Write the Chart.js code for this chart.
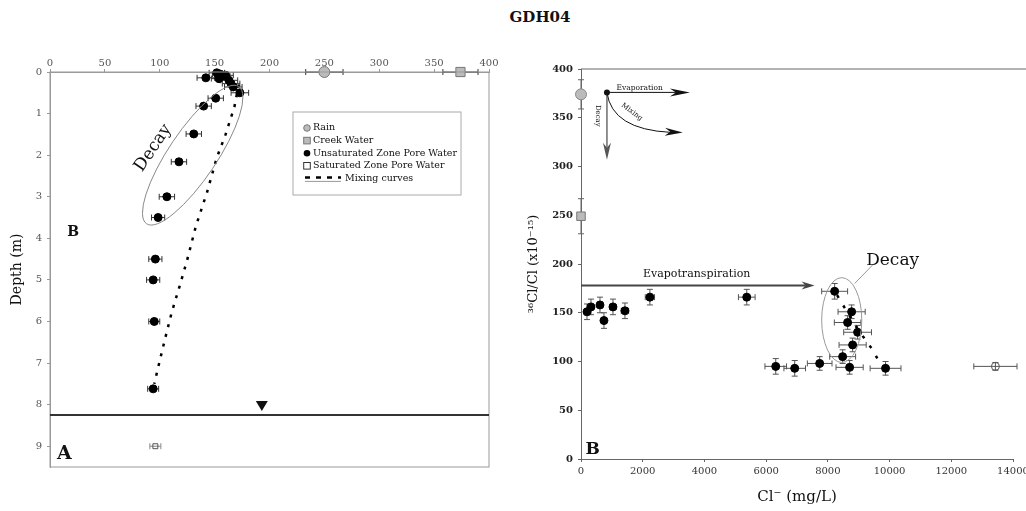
<!DOCTYPE html>
<html lang="en">
<head>
  <meta charset="UTF-8">
  <title>GDH04</title>
  <script src="https://cdn.jsdelivr.net/npm/chart.js"></script>
  <style>
    body { margin: 0; background: #fff; width: 1026px; height: 511px; overflow: hidden; position: relative; }
    #title { position: absolute; left: 490px; width: 100px; top: 8px; text-align: center;
             font: bold 15px "DejaVu Serif", serif; color: #111; }
    canvas { position: absolute; top: 0; }
    #depthChart { left: 0; }
    #mixChart { left: 510px; }
  </style>
</head>
<body>

  <div id="title">GDH04</div>
  <canvas id="depthChart" width="505" height="511"></canvas>
  <canvas id="mixChart" width="516" height="511"></canvas>

  <script>
    const SERIF = '"DejaVu Serif", serif';

    // ---- panel A: 36Cl/Cl (x10^-15) against depth ----
    const depthTicks = [0, 1, 2, 3, 4, 5, 6, 7, 8, 9];
    const ratioTopTicks = [0, 50, 100, 150, 200, 250, 300, 350, 400];

    const rainRatioA = [250], rainDepthA = [0], rainErrA = [17];
    const creekRatioA = [374], creekDepthA = [0], creekErrA = [16];
    const unsatRatioA = [142, 152, 155, 157, 154, 160, 163, 165, 167, 173, 151, 140, 131, 117.5, 106.5, 98.5, 96, 94, 95, 94];
    const unsatDepthA = [0.14, 0.02, 0.05, 0.1, 0.16, 0.08, 0.2, 0.28, 0.36, 0.5, 0.63, 0.82, 1.49, 2.16, 3.0, 3.5, 4.5, 5.0, 6.0, 7.62];
    const unsatErrA   = [8, 7, 7, 7, 7, 7, 8, 8, 8, 8, 7, 7, 7, 7, 7, 6, 6, 6, 5, 5];
    const satRatioA = [96], satDepthA = [9.0], satErrA = [5];
    const mixRatioA = [172, 168, 160, 152, 143, 133, 125, 118, 111, 105, 99.5, 95];
    const mixDepthA = [0.3, 0.84, 1.5, 2.06, 2.9, 3.7, 4.52, 5.16, 5.77, 6.4, 7.0, 7.5];
    const waterTableDepth = 8.25;
    const waterTableRatio = 193;

    const legendLabels = ['Rain', 'Creek Water', 'Unsaturated Zone Pore Water', 'Saturated Zone Pore Water', 'Mixing curves'];

    // ---- panel B: 36Cl/Cl against Cl- ----
    const clTicks = [0, 2000, 4000, 6000, 8000, 10000, 12000, 14000];
    const ratioTicks = [0, 50, 100, 150, 200, 250, 300, 350, 400];

    const rainClB = [0], rainRatioB = [374], rainErrB = [15];
    const creekClB = [0], creekRatioB = [249], creekErrB = [18];
    const unsatClB    = [194, 324, 615, 744, 1036, 1424, 2233, 5372, 8220, 8770, 8640, 8964, 8803, 8479, 6311, 6926, 7735, 8705, 9870];
    const unsatRatioB = [151, 156, 158, 142, 156, 152, 166, 166, 172, 151, 140, 130, 117, 105, 95, 93, 98, 94, 93];
    const unsatClErrB = [60, 60, 80, 80, 100, 120, 150, 270, 420, 440, 430, 450, 440, 420, 350, 350, 400, 440, 500];
    const unsatRatioErrB = [8, 8, 8, 8, 8, 8, 8, 8, 8, 7, 7, 7, 7, 7, 8, 8, 7, 7, 7];
    const satClB = [13430], satRatioB = [95], satClErrB = [700], satRatioErrB = [4];
    const mixClB    = [8300, 8450, 8700, 8930, 9200, 9450, 9640, 9800];
    const mixRatioB = [168, 160, 147, 135, 123, 112, 101, 95];

    const pts = (xs, ys) => xs.map((x, i) => ({ x: x, y: ys[i] }));

    // error bars drawn under the markers
    const errorBars = {
      id: 'errorBars',
      beforeDatasetsDraw(chart) {
        const { ctx, scales: { x, y } } = chart;
        ctx.save();
        ctx.lineWidth = 1;
        chart.data.datasets.forEach(ds => {
          if (!ds.errX && !ds.errY) return;
          ctx.strokeStyle = ds.errColor || '#333';
          ds.data.forEach((p, i) => {
            const px = x.getPixelForValue(p.x), py = y.getPixelForValue(p.y);
            ctx.beginPath();
            if (ds.errX && ds.errX[i]) {
              const a = x.getPixelForValue(p.x - ds.errX[i]), b = x.getPixelForValue(p.x + ds.errX[i]);
              ctx.moveTo(a, py); ctx.lineTo(b, py);
              ctx.moveTo(a, py - 3); ctx.lineTo(a, py + 3);
              ctx.moveTo(b, py - 3); ctx.lineTo(b, py + 3);
            }
            if (ds.errY && ds.errY[i]) {
              const a = y.getPixelForValue(p.y - ds.errY[i]), b = y.getPixelForValue(p.y + ds.errY[i]);
              ctx.moveTo(px, a); ctx.lineTo(px, b);
              ctx.moveTo(px - 3, a); ctx.lineTo(px + 3, a);
              ctx.moveTo(px - 3, b); ctx.lineTo(px + 3, b);
            }
            ctx.stroke();
          });
        });
        ctx.restore();
      }
    };

    function text(ctx, str, x, y, font, rot, align) {
      ctx.save();
      ctx.translate(x, y);
      if (rot) ctx.rotate(rot);
      ctx.font = font;
      ctx.fillStyle = '#111';
      ctx.textAlign = align || 'center';
      ctx.textBaseline = 'middle';
      ctx.fillText(str, 0, 0);
      ctx.restore();
    }

    function arrowHead(ctx, x2, y2, ang, len, half) {
      const bx = x2 - len * Math.cos(ang), by = y2 - len * Math.sin(ang);
      ctx.beginPath();
      ctx.moveTo(x2, y2);
      ctx.lineTo(bx + half * Math.sin(ang), by - half * Math.cos(ang));
      ctx.lineTo(bx + 0.3 * len * Math.cos(ang), by + 0.3 * len * Math.sin(ang));
      ctx.lineTo(bx - half * Math.sin(ang), by + half * Math.cos(ang));
      ctx.closePath();
      ctx.fill();
    }

    function arrow(ctx, x1, y1, x2, y2, len, half, lw, col) {
      const ang = Math.atan2(y2 - y1, x2 - x1);
      ctx.save();
      ctx.strokeStyle = col; ctx.fillStyle = col; ctx.lineWidth = lw;
      ctx.beginPath();
      ctx.moveTo(x1, y1);
      ctx.lineTo(x2 - 0.7 * len * Math.cos(ang), y2 - 0.7 * len * Math.sin(ang));
      ctx.stroke();
      arrowHead(ctx, x2, y2, ang, len, half);
      ctx.restore();
    }

    // ---------- panel A extras ----------
    const depthExtras = {
      id: 'depthExtras',
      afterDatasetsDraw(chart) {
        const { ctx, chartArea: ca, scales: { x, y } } = chart;
        ctx.save();
        // frame
        ctx.strokeStyle = '#999';
        ctx.lineWidth = 1;
        ctx.strokeRect(ca.left, ca.top, ca.right - ca.left, ca.bottom - ca.top);

        // water table
        const wy = y.getPixelForValue(waterTableDepth);
        ctx.strokeStyle = '#333';
        ctx.lineWidth = 2;
        ctx.beginPath(); ctx.moveTo(ca.left, wy); ctx.lineTo(ca.right, wy); ctx.stroke();
        const tx = x.getPixelForValue(waterTableRatio);
        ctx.fillStyle = '#111';
        ctx.beginPath();
        ctx.moveTo(tx - 6, wy - 14); ctx.lineTo(tx + 6, wy - 14); ctx.lineTo(tx, wy - 4);
        ctx.closePath(); ctx.fill();

        // decay ellipse
        const p1x = x.getPixelForValue(172), p1y = y.getPixelForValue(0.35);
        const p2x = x.getPixelForValue(88), p2y = y.getPixelForValue(3.65);
        const cx = (p1x + p2x) / 2, cy = (p1y + p2y) / 2;
        const rMaj = Math.hypot(p1x - p2x, p1y - p2y) / 2;
        const ang = Math.atan2(p1y - p2y, p1x - p2x);
        ctx.strokeStyle = '#888';
        ctx.lineWidth = 1;
        ctx.beginPath(); ctx.ellipse(cx, cy, rMaj, 24, ang, 0, Math.PI * 2); ctx.stroke();
        text(ctx, 'Decay', x.getPixelForValue(94), y.getPixelForValue(1.83), '17px ' + SERIF, ang);

        text(ctx, 'B', x.getPixelForValue(21), y.getPixelForValue(3.85), 'bold 14px ' + SERIF);
        text(ctx, 'A', x.getPixelForValue(13), y.getPixelForValue(9.2), 'bold 19px ' + SERIF);

        // legend box
        const lx = ca.left + 243, ly = ca.top + 40;
        ctx.strokeStyle = '#aaa';
        ctx.strokeRect(lx, ly, 168, 83);
        ctx.font = '9.5px ' + SERIF;
        ctx.textBaseline = 'middle';
        legendLabels.forEach((lab, i) => {
          const ry = ly + 16 + i * 12.6;
          const sx = lx + 14;
          ctx.lineWidth = 1;
          if (i === 0) {
            ctx.fillStyle = '#bbb'; ctx.strokeStyle = '#777';
            ctx.beginPath(); ctx.arc(sx, ry, 3.3, 0, Math.PI * 2); ctx.fill(); ctx.stroke();
          } else if (i === 1) {
            ctx.fillStyle = '#bbb'; ctx.strokeStyle = '#777';
            ctx.fillRect(sx - 3.3, ry - 3.3, 6.6, 6.6); ctx.strokeRect(sx - 3.3, ry - 3.3, 6.6, 6.6);
          } else if (i === 2) {
            ctx.fillStyle = '#000';
            ctx.beginPath(); ctx.arc(sx, ry, 3.3, 0, Math.PI * 2); ctx.fill();
          } else if (i === 3) {
            ctx.strokeStyle = '#333';
            ctx.strokeRect(sx - 3.3, ry - 3.3, 6.6, 6.6);
          } else {
            ctx.strokeStyle = '#000'; ctx.lineWidth = 2.5;
            ctx.setLineDash([5, 6]);
            ctx.beginPath(); ctx.moveTo(sx - 2, ry - 1); ctx.lineTo(sx + 34, ry - 1); ctx.stroke();
            ctx.setLineDash([]);
            ctx.strokeStyle = '#999'; ctx.lineWidth = 1;
            ctx.beginPath(); ctx.moveTo(sx - 2, ry + 3); ctx.lineTo(sx + 34, ry + 3); ctx.stroke();
          }
          ctx.fillStyle = '#111';
          ctx.textAlign = 'left';
          ctx.fillText(lab, i === 4 ? sx + 38 : sx + 6, ry);
        });
        ctx.restore();
      }
    };

    // ---------- panel B extras ----------
    const mixExtras = {
      id: 'mixExtras',
      afterDatasetsDraw(chart) {
        const { ctx, chartArea: ca, scales: { x, y } } = chart;
        ctx.save();
        ctx.strokeStyle = '#666';
        ctx.lineWidth = 1;
        ctx.beginPath(); ctx.moveTo(ca.left, ca.top); ctx.lineTo(chart.width, ca.top); ctx.stroke();

        // process sketch in the top-left corner
        const ox = x.getPixelForValue(841), oy = y.getPixelForValue(376);
        arrow(ctx, ox, oy, x.getPixelForValue(3530), oy, 20, 4, 1, '#111');
        arrow(ctx, ox, oy, ox, y.getPixelForValue(307), 17, 4, 1.3, '#555');
        const qx = x.getPixelForValue(1000), qy = y.getPixelForValue(338);
        const ex = x.getPixelForValue(3300), ey = y.getPixelForValue(335);
        ctx.strokeStyle = '#111';
        ctx.beginPath(); ctx.moveTo(ox, oy); ctx.quadraticCurveTo(qx, qy, ex - 12, ey); ctx.stroke();
        ctx.fillStyle = '#111';
        arrowHead(ctx, ex, ey, Math.atan2(ey - qy, ex - qx), 18, 4);
        ctx.beginPath(); ctx.arc(ox, oy, 3, 0, Math.PI * 2); ctx.fill();
        text(ctx, 'Evaporation', x.getPixelForValue(1900), y.getPixelForValue(380), '7.5px ' + SERIF);
        text(ctx, 'Decay', x.getPixelForValue(550), y.getPixelForValue(352), '7px ' + SERIF, Math.PI / 2);
        text(ctx, 'Mixing', x.getPixelForValue(1650), y.getPixelForValue(356), '7px ' + SERIF, 0.65);

        // evapotranspiration arrow
        const eyy = y.getPixelForValue(178);
        arrow(ctx, ca.left, eyy, x.getPixelForValue(7570), eyy, 13, 4, 2, '#444');
        text(ctx, 'Evapotranspiration', x.getPixelForValue(3750), y.getPixelForValue(190), '11px ' + SERIF);

        // decay ellipse and label
        const l = x.getPixelForValue(7800), r = x.getPixelForValue(9100);
        const t = y.getPixelForValue(186), b = y.getPixelForValue(99);
        ctx.strokeStyle = '#999';
        ctx.lineWidth = 1;
        ctx.beginPath(); ctx.ellipse((l + r) / 2, (t + b) / 2, (r - l) / 2, (b - t) / 2, 0, 0, Math.PI * 2); ctx.stroke();
        ctx.beginPath();
        ctx.moveTo(x.getPixelForValue(8870), y.getPixelForValue(180));
        ctx.lineTo(x.getPixelForValue(9450), y.getPixelForValue(199));
        ctx.stroke();
        text(ctx, 'Decay', x.getPixelForValue(10100), y.getPixelForValue(203), '17px ' + SERIF);

        text(ctx, 'B', x.getPixelForValue(380), y.getPixelForValue(10), 'bold 17px ' + SERIF);
        ctx.restore();
      }
    };

    const tickFont = { family: SERIF, size: 10 };
    const tickFontBold = { family: SERIF, size: 10, weight: 'bold' };

    new Chart(document.getElementById('depthChart'), {
      type: 'scatter',
      data: {
        datasets: [
          { label: 'Mixing curves', data: pts(mixRatioA, mixDepthA), showLine: true, pointRadius: 0,
            borderColor: '#000', borderWidth: 2.5, borderDash: [3, 7], clip: false },
          { label: 'Rain', data: pts(rainRatioA, rainDepthA), errX: rainErrA, pointRadius: 5.5,
            backgroundColor: '#bbb', borderColor: '#777', borderWidth: 1, clip: false },
          { label: 'Creek Water', data: pts(creekRatioA, creekDepthA), errX: creekErrA, pointStyle: 'rect',
            pointRadius: 6.5, backgroundColor: '#bbb', borderColor: '#777', borderWidth: 1, clip: false },
          { label: 'Unsaturated Zone Pore Water', data: pts(unsatRatioA, unsatDepthA), errX: unsatErrA,
            pointRadius: 4, backgroundColor: '#000', borderColor: '#000', clip: false },
          { label: 'Saturated Zone Pore Water', data: pts(satRatioA, satDepthA), errX: satErrA, errColor: '#888',
            pointStyle: 'rect', pointRadius: 3.5, backgroundColor: 'rgba(0,0,0,0)', borderColor: '#555', borderWidth: 1 }
        ]
      },
      options: {
        responsive: false,
        animation: false,
        layout: { padding: { left: 5, top: 50, right: 16, bottom: 44 } },
        plugins: { legend: { display: false }, tooltip: { enabled: false } },
        scales: {
          x: {
            type: 'linear', position: 'top', min: 0, max: 400,
            afterBuildTicks: s => { s.ticks = ratioTopTicks.map(v => ({ value: v })); },
            afterFit: s => { s.height = 22; s.paddingLeft = 0; s.paddingRight = 0; },
            ticks: { autoSkip: false, maxRotation: 0, padding: 0, color: '#555', font: tickFont },
            grid: { drawOnChartArea: false, tickLength: 3, color: '#999' },
            border: { color: '#999' }
          },
          y: {
            type: 'linear', reverse: true, min: 0, max: 9.5,
            afterBuildTicks: s => { s.ticks = depthTicks.map(v => ({ value: v })); },
            afterFit: s => { s.width = 45; s.paddingTop = 0; s.paddingBottom = 0; },
            ticks: { autoSkip: false, padding: 5, color: '#555', font: tickFont },
            grid: { drawOnChartArea: false, tickLength: 3, color: '#999' },
            border: { color: '#999' },
            title: { display: true, text: 'Depth (m)', color: '#111', font: { family: SERIF, size: 14 } }
          }
        }
      },
      plugins: [errorBars, depthExtras]
    });

    new Chart(document.getElementById('mixChart'), {
      type: 'scatter',
      data: {
        datasets: [
          { label: 'Mixing', data: pts(mixClB, mixRatioB), showLine: true, pointRadius: 0,
            borderColor: '#000', borderWidth: 2.5, borderDash: [3, 9] },
          { label: 'Rain', data: pts(rainClB, rainRatioB), errY: rainErrB, errColor: '#666', pointRadius: 5.5,
            backgroundColor: '#bbb', borderColor: '#888', borderWidth: 1, clip: false },
          { label: 'Creek Water', data: pts(creekClB, creekRatioB), errY: creekErrB, errColor: '#666', pointStyle: 'rect',
            pointRadius: 6, backgroundColor: '#bbb', borderColor: '#777', borderWidth: 1, clip: false },
          { label: 'Unsaturated Zone Pore Water', data: pts(unsatClB, unsatRatioB), errX: unsatClErrB, errY: unsatRatioErrB,
            errColor: '#555', pointRadius: 4, backgroundColor: '#000', borderColor: '#000', clip: false },
          { label: 'Saturated Zone Pore Water', data: pts(satClB, satRatioB), errX: satClErrB, errY: satRatioErrB,
            errColor: '#555', pointRadius: 4, backgroundColor: 'rgba(0,0,0,0)', borderColor: '#555', borderWidth: 1 }
        ]
      },
      options: {
        responsive: false,
        animation: false,
        layout: { padding: { left: 12, top: 69, right: 13, bottom: 1 } },
        plugins: { legend: { display: false }, tooltip: { enabled: false } },
        scales: {
          x: {
            type: 'linear', min: 0, max: 14000,
            afterBuildTicks: s => { s.ticks = clTicks.map(v => ({ value: v })); },
            afterFit: s => { s.height = 51; s.paddingLeft = 0; s.paddingRight = 0; },
            ticks: { autoSkip: false, maxRotation: 0, padding: 3, color: '#333', font: tickFont, callback: v => String(v) },
            grid: { drawOnChartArea: false, tickLength: 3, color: '#666' },
            border: { color: '#666' },
            title: { display: true, text: 'Cl\u207B (mg/L)', color: '#111', font: { family: SERIF, size: 15 } }
          },
          y: {
            type: 'linear', min: 0, max: 400,
            afterBuildTicks: s => { s.ticks = ratioTicks.map(v => ({ value: v })); },
            afterFit: s => { s.width = 59; s.paddingTop = 0; s.paddingBottom = 0; },
            ticks: { autoSkip: false, padding: 5, color: '#222', font: tickFontBold },
            grid: { drawOnChartArea: false, tickLength: 3, color: '#666' },
            border: { color: '#666' },
            title: { display: true, text: '\u00B3\u2076Cl/Cl (x10\u207B\u00B9\u2075)', color: '#111', font: { family: SERIF, size: 13 } }
          }
        }
      },
      plugins: [errorBars, mixExtras]
    });
  </script>

</body>
</html>
